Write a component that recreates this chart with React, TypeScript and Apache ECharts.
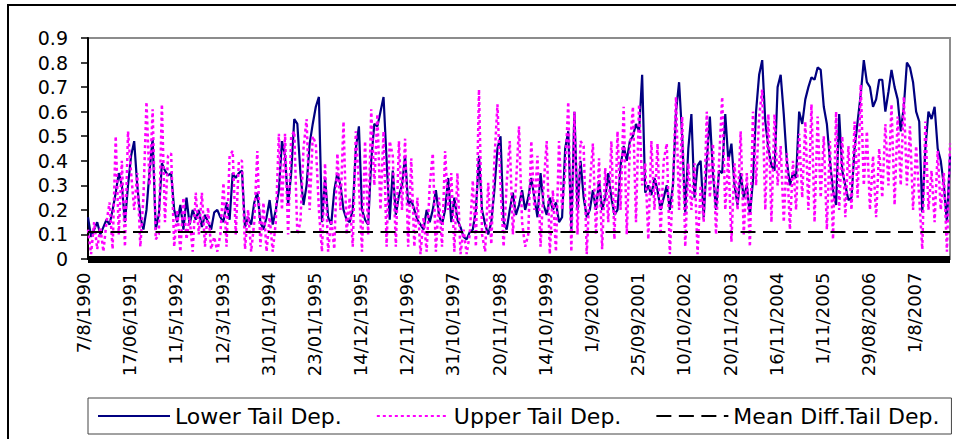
import { useEffect, useRef } from 'react';
import * as echarts from 'echarts';

// Dates printed under the category axis, one every LABEL_STEP observations
const tickLabels = [
  '7/8/1990', '17/06/1991', '11/5/1992', '12/3/1993', '31/01/1994', '23/01/1995',
  '14/12/1995', '12/11/1996', '31/10/1997', '20/11/1998', '14/10/1999', '1/9/2000',
  '25/09/2001', '10/10/2002', '20/11/2003', '16/11/2004', '1/11/2005', '29/08/2006', '1/8/2007',
];
const LABEL_STEP = 15;

// Rolling lower tail dependence
const lowerTail = [
  0.17, 0.09, 0.12, 0.15, 0.10, 0.13, 0.16, 0.14, 0.20, 0.27,
  0.35, 0.30, 0.15, 0.30, 0.42, 0.48, 0.30, 0.17, 0.12, 0.20,
  0.36, 0.49, 0.12, 0.18, 0.39, 0.36, 0.34, 0.35, 0.20, 0.15,
  0.22, 0.12, 0.25, 0.14, 0.20, 0.16, 0.20, 0.13, 0.18, 0.15,
  0.12, 0.19, 0.20, 0.17, 0.15, 0.23, 0.16, 0.35, 0.33, 0.35,
  0.36, 0.13, 0.17, 0.14, 0.23, 0.27, 0.15, 0.12, 0.17, 0.24,
  0.14, 0.20, 0.28, 0.48, 0.42, 0.22, 0.35, 0.57, 0.55, 0.35,
  0.22, 0.30, 0.47, 0.55, 0.62, 0.66, 0.15, 0.33, 0.17, 0.14,
  0.28, 0.35, 0.30, 0.20, 0.16, 0.15, 0.20, 0.45, 0.54, 0.20,
  0.16, 0.14, 0.40, 0.55, 0.54, 0.60, 0.66, 0.40, 0.16, 0.36,
  0.18, 0.26, 0.30, 0.42, 0.22, 0.24, 0.20, 0.16, 0.14, 0.12,
  0.20, 0.15, 0.20, 0.28, 0.18, 0.14, 0.20, 0.33, 0.15, 0.25,
  0.16, 0.13, 0.09, 0.08, 0.11, 0.12, 0.20, 0.42, 0.20, 0.14,
  0.10, 0.15, 0.28, 0.45, 0.50, 0.15, 0.12, 0.20, 0.27, 0.18,
  0.22, 0.28, 0.20, 0.25, 0.33, 0.25, 0.17, 0.35, 0.22, 0.18,
  0.25, 0.20, 0.23, 0.15, 0.17, 0.45, 0.52, 0.12, 0.60, 0.20,
  0.40, 0.25, 0.17, 0.20, 0.28, 0.20, 0.32, 0.20, 0.25, 0.35,
  0.25, 0.18, 0.20, 0.38, 0.46, 0.40, 0.48, 0.50, 0.55, 0.52,
  0.75, 0.27, 0.30, 0.26, 0.33, 0.28, 0.20, 0.25, 0.30, 0.20,
  0.30, 0.60, 0.72, 0.50, 0.19, 0.45, 0.59, 0.25, 0.38, 0.40,
  0.17, 0.40, 0.58, 0.35, 0.20, 0.36, 0.35, 0.59, 0.40, 0.47,
  0.30, 0.22, 0.35, 0.25, 0.30, 0.18, 0.32, 0.60, 0.75, 0.81,
  0.56, 0.45, 0.38, 0.36, 0.70, 0.75, 0.59, 0.40, 0.30, 0.35,
  0.33, 0.60, 0.55, 0.65, 0.70, 0.74, 0.73, 0.78, 0.77, 0.62,
  0.55, 0.40, 0.28, 0.22, 0.59, 0.36, 0.30, 0.24, 0.25, 0.45,
  0.56, 0.67, 0.81, 0.72, 0.70, 0.62, 0.65, 0.73, 0.73, 0.60,
  0.68, 0.77, 0.70, 0.65, 0.52, 0.62, 0.80, 0.78, 0.72, 0.60,
  0.56, 0.19, 0.45, 0.60, 0.57, 0.62, 0.45, 0.40, 0.30, 0.15, 0.42,
];

// Rolling upper tail dependence
const upperTail = [
  0.12, 0.02, 0.15, 0.04, 0.13, 0.03, 0.15, 0.23, 0.04, 0.50,
  0.10, 0.40, 0.05, 0.52, 0.35, 0.20, 0.35, 0.05, 0.25, 0.64,
  0.30, 0.61, 0.08, 0.10, 0.63, 0.15, 0.42, 0.43, 0.05, 0.20,
  0.03, 0.25, 0.08, 0.17, 0.03, 0.27, 0.10, 0.27, 0.05, 0.21,
  0.04, 0.09, 0.03, 0.10, 0.31, 0.05, 0.42, 0.44, 0.10, 0.40,
  0.40, 0.04, 0.20, 0.03, 0.15, 0.44, 0.05, 0.23, 0.03, 0.17,
  0.03, 0.15, 0.51, 0.20, 0.51, 0.10, 0.50, 0.52, 0.10, 0.15,
  0.45, 0.57, 0.20, 0.50, 0.47, 0.20, 0.03, 0.39, 0.03, 0.16,
  0.04, 0.43, 0.20, 0.56, 0.10, 0.25, 0.05, 0.52, 0.30, 0.03,
  0.48, 0.10, 0.61, 0.30, 0.59, 0.20, 0.52, 0.05, 0.48, 0.42,
  0.05, 0.48, 0.20, 0.49, 0.05, 0.41, 0.05, 0.25, 0.02, 0.17,
  0.03, 0.30, 0.43, 0.03, 0.25, 0.05, 0.44, 0.20, 0.35, 0.03,
  0.35, 0.02, 0.12, 0.02, 0.10, 0.32, 0.05, 0.69, 0.10, 0.03,
  0.31, 0.06, 0.40, 0.63, 0.30, 0.05, 0.31, 0.48, 0.10, 0.30,
  0.54, 0.15, 0.05, 0.10, 0.48, 0.20, 0.42, 0.05, 0.30, 0.48,
  0.02, 0.28, 0.03, 0.48, 0.20, 0.35, 0.64, 0.03, 0.60, 0.10,
  0.48, 0.46, 0.02, 0.30, 0.47, 0.10, 0.41, 0.04, 0.37, 0.15,
  0.48, 0.08, 0.52, 0.20, 0.62, 0.10, 0.45, 0.62, 0.15, 0.63,
  0.30, 0.39, 0.08, 0.48, 0.20, 0.47, 0.10, 0.40, 0.47, 0.02,
  0.30, 0.66, 0.20, 0.58, 0.05, 0.39, 0.20, 0.39, 0.02, 0.30,
  0.15, 0.60, 0.25, 0.47, 0.10, 0.40, 0.66, 0.20, 0.42, 0.07,
  0.39, 0.20, 0.52, 0.10, 0.35, 0.05, 0.60, 0.30, 0.58, 0.69,
  0.20, 0.59, 0.15, 0.59, 0.30, 0.46, 0.15, 0.43, 0.12, 0.40,
  0.20, 0.51, 0.25, 0.56, 0.20, 0.63, 0.15, 0.58, 0.25, 0.50,
  0.12, 0.48, 0.08, 0.60, 0.20, 0.50, 0.17, 0.46, 0.20, 0.56,
  0.25, 0.71, 0.30, 0.52, 0.20, 0.42, 0.17, 0.45, 0.25, 0.55,
  0.30, 0.63, 0.22, 0.58, 0.30, 0.66, 0.30, 0.54, 0.20, 0.46,
  0.25, 0.04, 0.56, 0.20, 0.36, 0.15, 0.44, 0.20, 0.35, 0.03, 0.47,
];

// Mean of the difference between the two tail dependences
const meanDiffTail = 0.11;

const FONT = "'DejaVu Sans', 'Liberation Sans', sans-serif";

// The category axis is drawn as a heavy band just under the zero line,
// where the dense observation ticks merge into one solid strip
const AXIS_BAND = 7;

export default function App() {
  const ref = useRef<HTMLDivElement>(null);

  useEffect(() => {
    if (!ref.current) return;
    const chart = echarts.init(ref.current, undefined, { renderer: 'svg' });

    const categories = lowerTail.map((_, i) =>
      i % LABEL_STEP === 0 ? tickLabels[i / LABEL_STEP] : `obs${i}`
    );
    const meanLine = categories.map(() => meanDiffTail);

    chart.setOption({
      animation: false,
      backgroundColor: '#ffffff',
      textStyle: { fontFamily: FONT },
      graphic: [
        {
          type: 'rect',
          silent: true,
          z: -10,
          shape: { x: 8, y: 5, width: 1000, height: 500 },
          style: { fill: 'none', stroke: '#000000', lineWidth: 2 },
        },
      ],
      grid: {
        left: 88,
        right: 6,
        top: 38,
        bottom: 180,
        show: true,
        borderColor: '#8c8c8c',
        borderWidth: 2,
        backgroundColor: 'transparent',
      },
      legend: {
        left: 88,
        top: 398,
        orient: 'horizontal',
        padding: [7, 12, 7, 9],
        itemGap: 34,
        itemWidth: 72,
        itemHeight: 22,
        borderColor: '#444444',
        borderWidth: 1,
        backgroundColor: '#ffffff',
        itemStyle: { opacity: 0 },
        textStyle: { fontSize: 22, color: '#000000', fontFamily: FONT },
        data: ['Lower Tail Dep.', 'Upper Tail Dep.', 'Mean Diff.Tail Dep.'],
      },
      xAxis: {
        type: 'category',
        data: categories,
        boundaryGap: false,
        offset: AXIS_BAND / 2,
        axisLine: { lineStyle: { color: '#000000', width: AXIS_BAND, cap: 'butt' } },
        axisTick: { show: false },
        axisLabel: {
          interval: LABEL_STEP - 1,
          rotate: 90,
          margin: 10,
          fontSize: 18,
          color: '#000000',
          fontFamily: FONT,
          verticalAlign: 'bottom',
          lineHeight: 9,
        },
        splitLine: { show: false },
      },
      yAxis: {
        type: 'value',
        min: 0,
        max: 0.9,
        interval: 0.1,
        axisLine: { show: true, lineStyle: { color: '#000000', width: 2 } },
        axisTick: { show: true, length: 7, lineStyle: { color: '#000000', width: 1.5 } },
        axisLabel: {
          margin: 20,
          fontSize: 19,
          color: '#000000',
          fontFamily: FONT,
          formatter: (v: number) => String(Number(v.toFixed(1))),
        },
        splitLine: { show: false },
      },
      series: [
        {
          name: 'Lower Tail Dep.',
          type: 'line',
          data: lowerTail,
          symbol: 'none',
          itemStyle: { color: '#000080' },
          lineStyle: { color: '#000080', width: 2.2 },
          emphasis: { disabled: true },
        },
        {
          name: 'Upper Tail Dep.',
          type: 'line',
          data: upperTail,
          symbol: 'none',
          itemStyle: { color: '#ff00ff' },
          lineStyle: { color: '#ff00ff', width: 2.5, type: [3, 3] },
          emphasis: { disabled: true },
        },
        {
          name: 'Mean Diff.Tail Dep.',
          type: 'line',
          data: meanLine,
          symbol: 'none',
          itemStyle: { color: '#000000' },
          lineStyle: { color: '#000000', width: 2, type: [15, 7.5] },
          emphasis: { disabled: true },
        },
      ],
    });

    return () => chart.dispose();
  }, []);

  return (
    <div
      ref={ref}
      style={{ position: 'absolute', left: 0, top: 0, width: 956, height: 439, background: '#fff' }}
    />
  );
}
